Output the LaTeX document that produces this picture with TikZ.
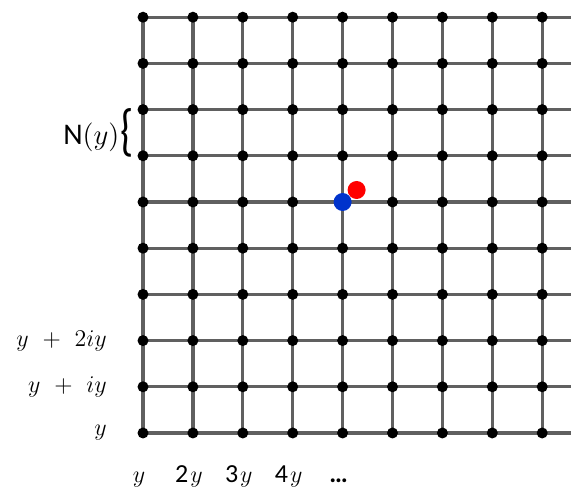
\documentclass[tikz,border=0pt]{standalone}
\usepackage{fontspec}
\newfontfamily\calfont{Carlito}
\usetikzlibrary{positioning,backgrounds}
\definecolor{gridgray}{RGB}{96,96,96}
\definecolor{dotblue}{RGB}{0,51,204}
\definecolor{dotred}{RGB}{255,0,0}
\tikzset{
  latt/.style={fill=black,circle,inner sep=0pt,minimum size=5.5pt},
  bond/.style={draw=gridgray,line width=1.6pt},
  spot/.style={circle,inner sep=0pt,minimum size=9pt},
  lbl/.style={inner sep=0pt,font=\fontsize{13}{15}\selectfont},
  axlbl/.style={lbl,text height=8.5pt,text depth=3pt,xshift=-2pt},
}
\begin{document}
\begin{tikzpicture}[x=24.95pt,y=23.1pt]
\useasboundingbox (-2.866,-1.255) rectangle (8.577,9.372);
% lattice points
\foreach \i in {0,...,8}
  \foreach \j in {0,...,9}
    \node[latt] (c-\i-\j) at (\i,\j) {};
% bonds
\begin{scope}[on background layer]
\foreach \j in {0,...,9} {
  \coordinate (e-\j) at (8.577,\j);
  \draw[bond] (c-0-\j.center) -- (e-\j);
}
\foreach \i in {0,...,8}
  \draw[bond] (c-\i-0.center) -- (c-\i-9.center);
\end{scope}
% the two points
\node[spot,fill=dotred,xshift=7pt,yshift=6pt] (pr) at (c-4-5) {};
\node[spot,fill=dotblue] (pb) at (c-4-5) {};
% row labels
\node[lbl,left=15pt of c-0-0] (r0) {$y$};
\node[lbl,left=15pt of c-0-1] (r1) {$y\ +\ iy$};
\node[lbl,left=15pt of c-0-2] (r2) {$y\ +\ 2iy$};
\coordinate (mid) at (0,6.5);
\node[lbl,font=\fontsize{15}{17}\selectfont,left=4.5pt of mid] (ny)
  {{\calfont N}$(y)$\kern0.5pt\raisebox{-2.5pt}{\scalebox{1}[1.35]{\calfont\fontsize{21}{21}\selectfont\{}}};
% column labels
\node[axlbl,below=13pt of c-0-0] (b0) {$y$};
\node[axlbl,below=13pt of c-1-0] (b1) {\calfont 2\kern1pt$y$};
\node[axlbl,below=13pt of c-2-0] (b2) {\calfont 3\kern1pt$y$};
\node[axlbl,below=13pt of c-3-0] (b3) {\calfont 4\kern1pt$y$};
\node[axlbl,below=13pt of c-4-0] (b4) {\calfont\bfseries …};
\end{tikzpicture}
\end{document}
